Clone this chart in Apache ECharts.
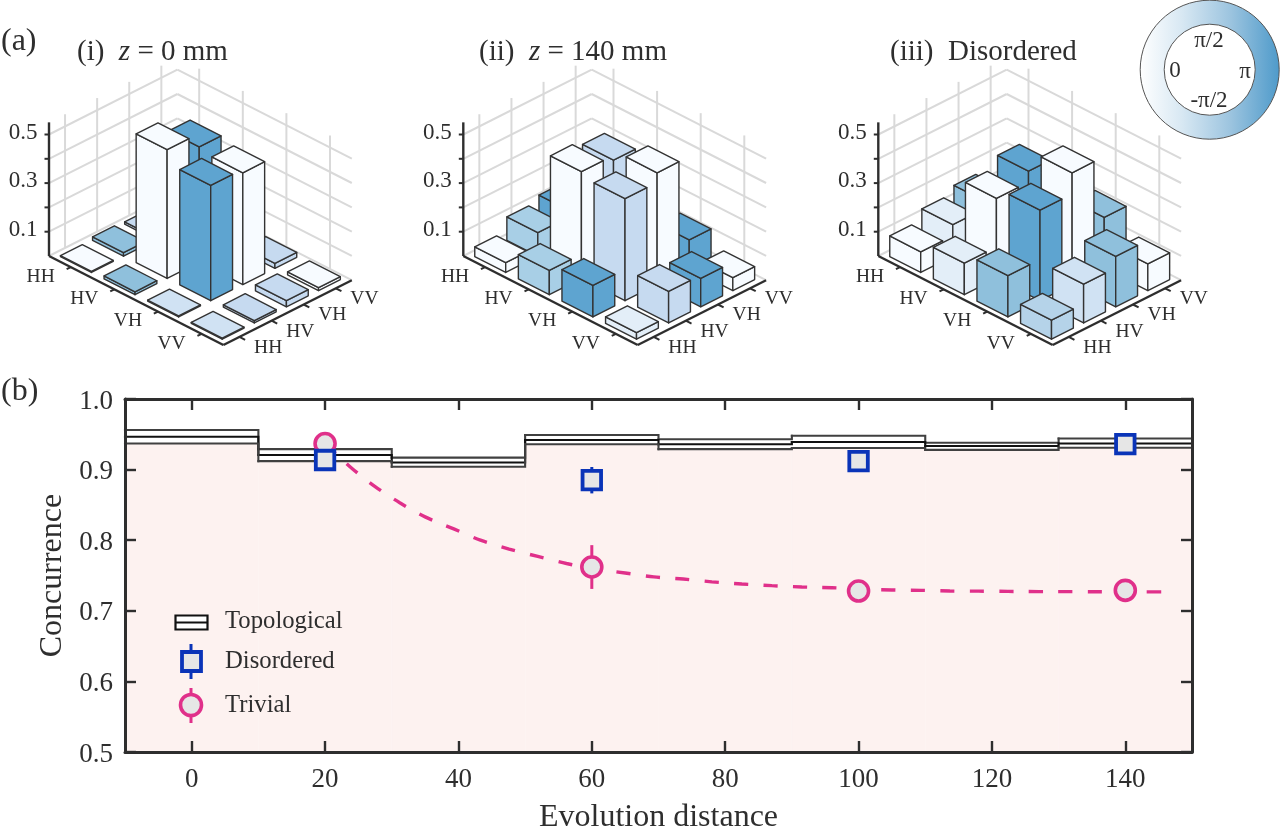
<!DOCTYPE html>
<html>
<head>
<meta charset="utf-8">
<style>html,body{margin:0;padding:0;background:#fff}#c{width:1280px;height:836px}</style>
<script src="https://cdn.jsdelivr.net/npm/echarts@6/dist/echarts.min.js"></script>
</head>
<body>
<div id="c"></div>
<script>
// ---------- data: panel (b) ----------
const binEdges = [-10, 10, 30, 50, 70, 90, 110, 130, 150];
const topoUpper = [0.956, 0.929, 0.917, 0.949, 0.943, 0.948, 0.938, 0.944];
const topoMid   = [0.9466, 0.9207, 0.910, 0.942, 0.936, 0.939, 0.9334, 0.937];
const topoLower = [0.937, 0.912, 0.904, 0.936, 0.929, 0.9306, 0.928, 0.931];
const disorderedX = [20, 60, 100, 140];
const disorderedY = [0.9136, 0.885, 0.912, 0.936];
const disorderedErr = [0.005, 0.0187, 0.004, 0.004];
const trivialX = [20, 60, 100, 140];
const trivialY = [0.937, 0.762, 0.728, 0.729];
const trivialErr = [0.004, 0.031, 0.004, 0.004];
const fitX = [20, 24, 27.5, 31.2, 35, 39.3, 43.3, 47.6, 51.9, 56.2, 60, 65, 69.3, 73.7, 78, 82.5, 87, 91.5, 96, 100, 105, 109.4, 113.7, 118, 122.4, 127, 131.5, 135.8, 140, 144.6, 145.7];
const fitY = [0.937, 0.902, 0.876, 0.853, 0.833, 0.816, 0.80, 0.7875, 0.777, 0.767, 0.76, 0.7535, 0.748, 0.745, 0.741, 0.738, 0.7356, 0.7337, 0.7327, 0.731, 0.7295, 0.729, 0.728, 0.7278, 0.7275, 0.7272, 0.7272, 0.727, 0.7268, 0.7268, 0.7268];
const xTicks = [0, 20, 40, 60, 80, 100, 120, 140];

// ---------- data: panel (a), rows along the left edge, columns along the right edge ----------
const basisLabels = ['HH', 'HV', 'VH', 'VV'];
const zTicks = [0.1, 0.2, 0.3, 0.4, 0.5];
const heightsZ0 = [[0.004,0.015,0.01,0.01],[0.012,0.53,0.475,0.01],[0.004,0.475,0.46,0.02],[0.004,0.01,0.025,0.012]];
const phaseZ0   = [[0,6,3,3],[6,0,7,3],[2,7,0,3],[2,3,3,0]];
const heightsZ140 = [[0.04,0.097,0.12,0.1],[0.10,0.44,0.42,0.1],[0.13,0.42,0.46,0.117],[0.027,0.13,0.117,0.053]];
const phaseZ140   = [[0,5,7,3],[5,0,3,7],[7,3,0,7],[1,3,7,0]];
const heightsDis = [[0.085,0.13,0.16,0.1],[0.13,0.33,0.375,0.15],[0.17,0.373,0.46,0.21],[0.078,0.16,0.207,0.11]];
const phaseDis   = [[0,1,6,1],[1,0,7,6],[6,7,0,6],[4,2,6,0]];

// ---------- styling ----------
const phaseColors = ['#f7fbff','#e3eef8','#d0e2f3','#c6daf0','#b5d3e9','#a8cfe6','#8fc0dc','#5ea4d0'];
const FONT = '"Liberation Serif","Times New Roman",serif';
const INK = '#2e2e2e', PINK = '#e0308a', BLUE = '#0a34b8', GREY = '#e6e6e6';

// oblique projection of (row, col, height) into each panel's hidden axes
const proj = (r, c, z) => [r * 43.6 + c * 32.1, z * 243 - r * 22.25 + c * 16.2];
const ZTOP = 0.55;

function wallsItem(params, api) {
  const P = (r, c, z) => api.coord(proj(r, c, z));
  const kids = [];
  const line = (a, b, stroke, w) => kids.push({type:'line', shape:{x1:a[0],y1:a[1],x2:b[0],y2:b[1]}, style:{stroke, lineWidth:w}, silent:true});
  const GR = '#d9d9d9';
  [0].concat(zTicks).forEach(z => {
    line(P(0,0,z), P(0,4,z), GR, 2);
    line(P(0,4,z), P(4,4,z), GR, 2);
  });
  for (let i = 0; i < 4; i++) {
    line(P(0,i+0.5,0), P(0,i+0.5,ZTOP), GR, 2);
    line(P(i+0.5,4,0), P(i+0.5,4,ZTOP), GR, 2);
  }
  // dark axes
  line(P(0,0,0), P(4,0,0), INK, 2.4);
  line(P(4,0,0), P(4,4,0), INK, 2.4);
  line(P(0,0,0), P(0,0,ZTOP), INK, 2.4);
  zTicks.forEach(z => {
    const a = P(0,0,z);
    line(a, [a[0]-4.5, a[1]], INK, 2);
  });
  basisLabels.forEach((t, i) => {
    line(P(i+0.5,0,0), P(i+0.5,-0.13,0), INK, 2);
    line(P(4,i+0.5,0), P(4.13,i+0.5,0), INK, 2);
    const a = P(i+0.375,-0.768,0), b = P(4.57,i+0.62,0);
    kids.push({type:'text', style:{text:t, x:a[0], y:a[1], fill:INK, font:'19.5px '+FONT, textAlign:'center', textVerticalAlign:'middle'}, silent:true});
    kids.push({type:'text', style:{text:t, x:b[0], y:b[1], fill:INK, font:'19.5px '+FONT, textAlign:'center', textVerticalAlign:'middle'}, silent:true});
  });
  [0.1, 0.3, 0.5].forEach(z => {
    const a = P(0,0,z);
    kids.push({type:'text', style:{text:z.toFixed(1), x:a[0]-26, y:a[1]-2, fill:INK, font:'23px '+FONT, textAlign:'center', textVerticalAlign:'middle'}, silent:true});
  });
  return {type:'group', children:kids};
}

function barItem(params, api) {
  const r = api.value(0), c = api.value(1), h = api.value(2), col = phaseColors[api.value(3)];
  const wa = 0.355, wb = 0.34, cr = r + 0.5, cc = c + 0.5;
  const P = (x, y, z) => api.coord(proj(x, y, z));
  const style = {fill:col, stroke:'#333', lineWidth:1.4, lineJoin:'round'};
  const poly = pts => ({type:'polygon', shape:{points:pts}, style, silent:true});
  const L = [cr-wa, cc-wb], F = [cr+wa, cc-wb], R = [cr+wa, cc+wb], B = [cr-wa, cc+wb];
  return {type:'group', children:[
    poly([P(L[0],L[1],0), P(F[0],F[1],0), P(F[0],F[1],h), P(L[0],L[1],h)]),
    poly([P(F[0],F[1],0), P(R[0],R[1],0), P(R[0],R[1],h), P(F[0],F[1],h)]),
    poly([P(L[0],L[1],h), P(F[0],F[1],h), P(R[0],R[1],h), P(B[0],B[1],h)])
  ]};
}

function barData(H, Ph) {
  const out = [];
  H.forEach((row, r) => row.forEach((h, c) => out.push([r, c, h, Ph[r][c]])));
  return out.sort((a, b) => (a[0] - a[1]) - (b[0] - b[1]));
}

const panelLeft = [49, 463.3, 878.3];
const panelData = [[heightsZ0, phaseZ0], [heightsZ140, phaseZ140], [heightsDis, phaseDis]];
const grids = [{left:125, right:88, top:399, bottom:84}];
const axisLine = {show:true, onZero:false, lineStyle:{color:INK, width:3}};
const tick = {show:true, inside:true, length:11, lineStyle:{color:INK, width:2.4}};
const xAxes = [
  {type:'value', gridIndex:0, min:-10, max:150, position:'bottom', z:10, axisLine,
   axisTick:Object.assign({customValues:xTicks}, tick),
   axisLabel:{color:INK, fontFamily:FONT, fontSize:27, margin:14, customValues:xTicks},
   splitLine:{show:false},
   name:'Evolution distance', nameLocation:'middle', nameGap:50,
   nameTextStyle:{color:INK, fontFamily:FONT, fontSize:32}},
  {type:'value', gridIndex:0, min:-10, max:150, position:'top', z:10, axisLine,
   axisTick:Object.assign({customValues:xTicks}, tick),
   axisLabel:{show:false, customValues:xTicks}, splitLine:{show:false}}
];
const yAxes = [
  {type:'value', gridIndex:0, min:0.5, max:1.0, interval:0.1, position:'left', z:10, axisLine, axisTick:tick,
   axisLabel:{color:INK, fontFamily:FONT, fontSize:27, margin:12, verticalAlign:'top', lineHeight:5, formatter:v=>v.toFixed(1)},
   splitLine:{show:false},
   name:'Concurrence', nameLocation:'middle', nameGap:50,
   nameTextStyle:{color:INK, fontFamily:FONT, fontSize:32}},
  {type:'value', gridIndex:0, min:0.5, max:1.0, interval:0.1, position:'right', z:10, axisLine, axisTick:tick,
   axisLabel:{show:false}, splitLine:{show:false}}
];

// one row per bin: left edge, right edge, value, value of next bin
const binRows = arr => arr.map((v, i) => [binEdges[i], binEdges[i+1], v, i + 1 < arr.length ? arr[i+1] : v]);
const bandLine = (name, arr, color, w) => ({
  type:'custom', name, xAxisIndex:0, yAxisIndex:0, z:3, silent:true, animation:false, data:binRows(arr),
  renderItem(p, api) {
    const a = api.coord([api.value(0), api.value(2)]);
    const b = api.coord([api.value(1), api.value(2)]);
    const c = api.coord([api.value(1), api.value(3)]);
    return {type:'polyline', shape:{points:[a, b, c]}, style:{stroke:color, lineWidth:w, fill:null, lineJoin:'miter', lineCap:'square'}};
  }
});
const bandFill = {
  type:'custom', name:'Below band', xAxisIndex:0, yAxisIndex:0, z:1, silent:true, animation:false, data:binRows(topoLower),
  renderItem(p, api) {
    const a = api.coord([api.value(0), api.value(2)]);
    const b = api.coord([api.value(1), api.value(2)]);
    const c = api.coord([api.value(1), 0.5]);
    const d = api.coord([api.value(0), 0.5]);
    return {type:'polygon', shape:{points:[a, b, c, d]}, style:{fill:'#fdf2f0', stroke:'#fdf2f0', lineWidth:0.5}};
  }
};

const whiskers = (xs, ys, es, color, z) => ({
  type:'custom', xAxisIndex:0, yAxisIndex:0, z, silent:true, animation:false,
  data: xs.map((x, i) => [x, ys[i], es[i]]),
  renderItem(p, api) {
    const a = api.coord([api.value(0), api.value(1) + api.value(2)]);
    const b = api.coord([api.value(0), api.value(1) - api.value(2)]);
    return {type:'line', shape:{x1:a[0],y1:a[1],x2:b[0],y2:b[1]}, style:{stroke:color, lineWidth:3}};
  }
});

const series = [
  bandFill,
  bandLine('Topological upper', topoUpper, '#404040', 2.1),
  bandLine('Topological', topoMid, '#111', 2.1),
  bandLine('Topological lower', topoLower, '#404040', 2.1),
  {type:'line', name:'Trivial fit', data:fitX.map((x, i) => [x, fitY[i]]), symbol:'none', showSymbol:false, smooth:0.3,
   lineStyle:{color:PINK, width:3.4, type:[14.5, 15]}, animation:false, silent:true, z:4},
  whiskers(trivialX, trivialY, trivialErr, PINK, 5),
  {type:'scatter', name:'Trivial', data:trivialX.map((x, i) => [x, trivialY[i]]), symbol:'circle', symbolSize:20,
   itemStyle:{color:GREY, borderColor:PINK, borderWidth:3.6, opacity:1}, animation:false, silent:true, z:6},
  whiskers(disorderedX, disorderedY, disorderedErr, BLUE, 7),
  {type:'scatter', name:'Disordered', data:disorderedX.map((x, i) => [x, disorderedY[i]]), symbol:'rect', symbolSize:18.5,
   itemStyle:{color:GREY, borderColor:BLUE, borderWidth:3.8, opacity:1}, animation:false, silent:true, z:8},
  {type:'pie', name:'Phase', center:[1209.7, 69.7], radius:[45.5, 69.5], silent:true, animation:false, label:{show:false}, labelLine:{show:false},
   itemStyle:{borderColor:'#555', borderWidth:1,
     color:{type:'linear', x:0, y:0, x2:1, y2:0, colorStops:[{offset:0,color:'#ffffff'},{offset:0.3,color:'#d8e8f3'},{offset:0.65,color:'#9cc4df'},{offset:1,color:'#4e9aca'}]}},
   data:[{value:1, name:'phase'}]}
];

panelLeft.forEach((lx, i) => {
  const g = i + 1;
  grids.push({left:lx - 40, top:56, width:400, height:330, show:false});
  xAxes.push({type:'value', gridIndex:g, min:-40, max:360, show:false});
  yAxes.push({type:'value', gridIndex:g, min:-130, max:200, show:false});
  const ax = {xAxisIndex:xAxes.length - 1, yAxisIndex:yAxes.length - 1};
  series.push(Object.assign({type:'custom', name:'walls'+g, renderItem:wallsItem, data:[[0,0]], clip:false, silent:true, animation:false, z:2}, ax));
  series.push(Object.assign({type:'custom', name:'rho'+g, renderItem:barItem, data:barData(panelData[i][0], panelData[i][1]), clip:false, silent:true, animation:false, z:3,
    encode:{x:0, y:1}}, ax));
});

const txt = (text, x, y, size, align) => ({type:'text', x, y, silent:true, z:20,
  style:{text, fill:INK, font:size+'px '+FONT, textAlign:align||'left', textVerticalAlign:'middle'}});
const titled = (x, y, parts) => ({type:'text', x, y, silent:true, z:20,
  style:{text:parts, fill:INK, font:'29px '+FONT, textAlign:'left', textVerticalAlign:'middle',
    rich:{n:{font:'29px '+FONT, fill:INK}, i:{font:'italic 29px '+FONT, fill:INK}}}});

const graphic = [
  txt('(a)', 1, 42, 32), txt('(b)', 1, 392, 32),
  titled(77, 52, '{n|(i)  }{i|z}{n| = 0 mm}'),
  titled(479, 52, '{n|(ii)  }{i|z}{n| = 140 mm}'),
  titled(890, 52, '{n|(iii)  Disordered}'),
  txt('π/2', 1209, 41, 23, 'center'), txt('0', 1175, 71, 23, 'center'),
  txt('π', 1245, 72, 23, 'center'), txt('-π/2', 1209, 101, 23, 'center'),
  // legend
  {type:'rect', silent:true, z:20, shape:{x:175.5, y:615.5, width:32, height:14}, style:{fill:'#fff', stroke:'#111', lineWidth:2.2}},
  {type:'line', silent:true, z:20, shape:{x1:175.5, y1:622.5, x2:207.5, y2:622.5}, style:{stroke:'#111', lineWidth:2.2}},
  {type:'line', silent:true, z:20, shape:{x1:191, y1:644, x2:191, y2:679}, style:{stroke:BLUE, lineWidth:3}},
  {type:'rect', silent:true, z:20, shape:{x:182, y:652, width:19, height:19}, style:{fill:GREY, stroke:BLUE, lineWidth:3.8}},
  {type:'line', silent:true, z:20, shape:{x1:191, y1:688, x2:191, y2:723}, style:{stroke:PINK, lineWidth:3}},
  {type:'circle', silent:true, z:20, shape:{cx:191, cy:705, r:10.5}, style:{fill:GREY, stroke:PINK, lineWidth:3.6}},
  txt('Topological', 225, 622, 24.7), txt('Disordered', 225, 662, 24.7), txt('Trivial', 225, 706, 24.7)
];

const chart = echarts.init(document.getElementById('c'), null, {renderer:'canvas', width:1280, height:836});
chart.setOption({animation:false, backgroundColor:'#fff', grid:grids, xAxis:xAxes, yAxis:yAxes, series, graphic:{elements:graphic}});
</script>
</body>
</html>
